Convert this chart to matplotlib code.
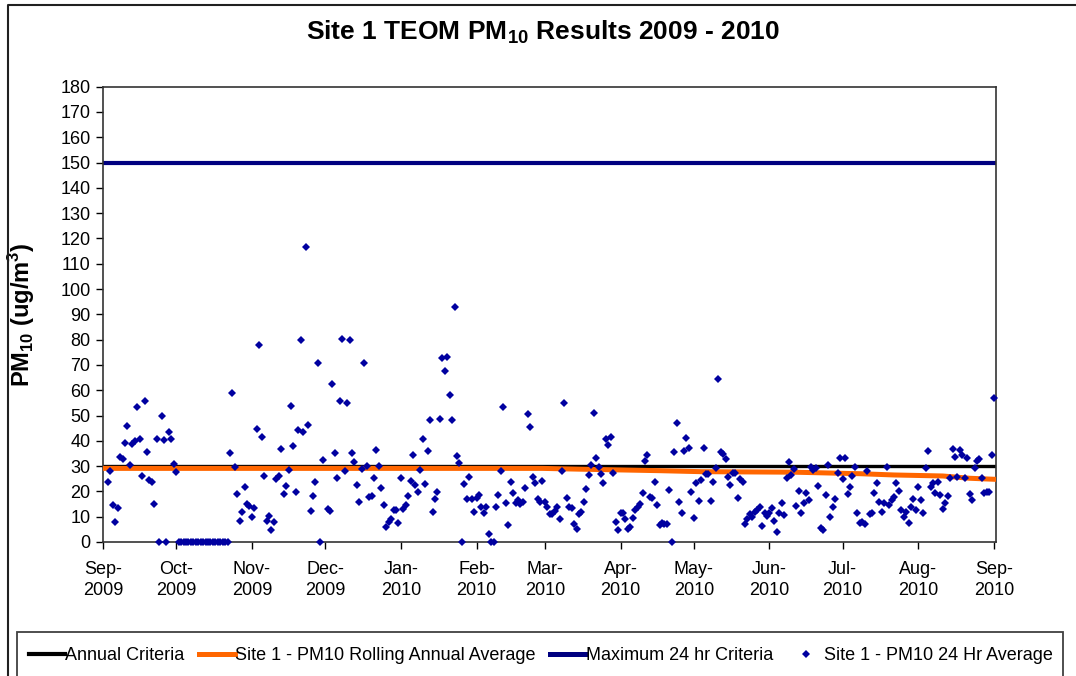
#! usr/bin/env python3

import numpy as np
import pandas as pd
import matplotlib
matplotlib.use('Agg')
import matplotlib.pyplot as plt
import matplotlib.dates as mdates
from matplotlib.lines import Line2D
from matplotlib.patches import Rectangle

plt.rcParams['font.family'] = ['Liberation Sans', 'DejaVu Sans']
plt.rcParams['mathtext.fontset'] = 'custom'
plt.rcParams['mathtext.rm'] = 'Liberation Sans'
plt.rcParams['mathtext.bf'] = 'Liberation Sans:bold'

# daily PM10 24 hr averages [ug/m3], first value on 3 Sep 2009, nan = no data
first_day = '2009-09-03'
pm10_daily = [
    # Sep 2009
    23.9, 28.1, 14.6, 7.9, 13.3, 33.7, 32.7, 39.0, 46.0, 30.6,
    38.6, 40.1, 53.5, 40.6, 26.1, 55.9, 35.7, 24.5, 23.7, 15.0,
    40.9, 0.0, 50.0, 40.3, 0.0, 43.4, 40.9, 30.7, 27.7,
    # zero run Oct 2009
    0, 0, 0, 0, 0, 0, 0, 0, 0, 0, 0, 0, 0, 0, 0, 0, 0, 0, 0, 0, 0,
    # late Oct - Nov 2009
    35.3, 58.8, 29.8, 18.9, 8.3, 11.9, 21.6, 14.9, 14.2, 9.9,
    13.3, 44.6, 77.8, 41.7, 26.1, 8.2, 10.4, 4.7, 7.9, 24.9,
    26.0, 36.8, 18.9, 22.3, 28.5, 53.8, 38.0, 19.9, 44.2, 80.0,
    43.5, 116.7, 46.3, 12.3, 18.2, 23.6, 70.7, 0.0, 32.4, np.nan,
    # Dec 2009 - Feb 2010
    13.2, 12.4, 62.5, 35.3, 25.2, 55.6, 80.4, 28.1, 55.1, 79.8,
    35.3, 31.6, 22.5, 15.8, 28.8, 70.9, 30.2, 17.7, 18.3, 25.2,
    36.3, 30.2, 21.5, 14.8, 6.1, 8.0, 9.2, 12.7, 12.7, 7.6,
    25.2, 13.2, 14.6, 18.2, 24.3, 34.3, 22.5, 19.7, 28.5, 40.9,
    22.9, 36.1, 48.3, 11.9, 16.9, 19.9, 48.8, 72.8, 67.6, 73.1,
    58.1, 48.3, 93.0, 34.0, 31.4, 0.0, 22.9, 16.9, 25.8, 17.0,
    12.0, 17.3, 18.5, 14.0, 11.4, 13.7, 3.0, 0.0, 0.0, 13.7,
    18.6, 28.2, 53.4, 15.5, 6.6, 23.6, 19.3, 15.5, 16.6, 15.0,
    15.9, 21.2, 50.5, 45.6, 25.8, 23.2, 16.9,
    # Mar - May 2010
    15.9, 24.3, 15.9, 13.7, 11.1, 11.0, 12.4, 14.0, 9.0, 28.0,
    55.0, 17.5, 14.0, 13.3, 7.0, 5.0, 11.1, 12.0, 15.8, 20.8,
    26.6, 30.5, 51.0, 33.1, 29.8, 26.9, 23.5, 40.7, 38.2, 41.4,
    27.4, 7.8, 4.7, 11.6, 11.6, 9.0, 5.3, 6.1, 9.4, 12.7,
    14.0, 15.0, 19.3, 32.0, 34.4, 17.7, 17.3, 23.9, 14.6, 6.7,
    7.4, 7.1, 7.1, 20.6, 0.0, 35.7, 47.0, 15.9, 11.6, 36.0,
    41.0, 37.1, 19.9, 9.6, 23.2, 16.2, 24.5, 37.3, 26.9, 26.8,
    16.3, 23.9, 29.1, 64.5, 35.7, 34.7, 32.7, 25.8, 22.5, 27.2,
    27.4, 17.3, 24.8, 23.9, 7.0, 9.1, 11.1, 10.0, 12.0, 12.7,
    14.0, 6.3, 11.6, 10.3,
    # Jun - Aug 2010
    11.6, 13.3, 8.4, 4.1, 11.3, 15.3, 10.7, 25.2, 31.8, 26.5,
    28.9, 14.2, 20.2, 11.3, 15.5, 19.5, 16.6, 29.5, 28.5, 29.1,
    22.2, 5.4, 4.7, 18.7, 30.5, 10.0, 14.0, 16.9, 27.4, 33.3,
    24.9, 33.1, 18.9, 21.6, 26.1, 29.5, 11.3, 7.4, 8.0, 7.0,
    28.1, 11.0, 11.3, 19.3, 23.2, 15.9, 12.0, 15.3, 29.8, 14.6,
    16.6, 17.7, 23.2, 20.3, 12.7, 9.8, 12.0, 7.4, 14.0, 16.9,
    12.7, 21.9, 16.6, 11.6, 29.1, 36.0, 21.9, 23.5, 19.3, 23.9,
    18.6, 12.9, 15.3, 18.3, 25.2, 36.8, 33.7, 25.8, 36.4, 34.4,
    25.2, 33.3, 18.9, 16.6, 29.1, 32.2, 32.7, 25.4, 19.3, 19.7,
    19.9, 34.4, 56.8,
]

# rolling annual average [ug/m3]
roll_dates = ['2009-09-01', '2009-11-01', '2010-01-01', '2010-02-28', '2010-03-15',
              '2010-04-17', '2010-05-04', '2010-06-11', '2010-07-08', '2010-07-22',
              '2010-08-11', '2010-08-22', '2010-09-01']
roll_avg = [29.1, 29.1, 29.1, 29.1, 28.8, 28.2, 27.8, 27.6, 27.0, 26.5, 26.1, 25.2, 24.8]

annual_criteria = 30  # [ug/m3]
max_24hr_criteria = 150  # [ug/m3]
period = ['2009-09-01', '2010-09-01']

labels = ['Annual Criteria', 'Site 1 - PM10 Rolling Annual Average',
          'Maximum 24 hr Criteria', 'Site 1 - PM10 24 Hr Average']

dates = pd.date_range(first_day, periods=len(pm10_daily), freq='D')
roll_dates = pd.to_datetime(roll_dates)
period = pd.to_datetime(period)

#######################################################################
W, H = 1076, 676
fig = plt.figure(figsize=(W/100, H/100), dpi=100)
ax = fig.add_axes([103/W, 1-542/H, (996-103)/W, (542-86.7)/H])

ax.plot(period, [annual_criteria]*2, '-', color='black', lw=2.4, zorder=2)
ax.plot(roll_dates, roll_avg, '-', color='#FF6600', lw=3.6, zorder=3)
ax.plot(period, [max_24hr_criteria]*2, '-', color='#000080', lw=3.0, zorder=2)
ax.plot(dates, pm10_daily, 'D', color='#0000A0', ms=4.5, mew=0, zorder=4, clip_on=False)

ax.set_ylim(0, 180)
ax.set_yticks(np.arange(0, 181, 10))
ax.set_xlim(period[0], period[1] + pd.Timedelta(days=0.8))
ax.xaxis.set_major_locator(mdates.MonthLocator())
ax.xaxis.set_major_formatter(mdates.DateFormatter('%b-\n%Y'))
ax.tick_params(direction='out', length=5, width=1, labelsize=13, colors='black')
ax.tick_params(axis='x', pad=9)
ax.tick_params(axis='y', pad=4)
for lab in ax.get_xticklabels():
    lab.set_linespacing(1.25)
for sp in ax.spines.values():
    sp.set_color('#333333')
    sp.set_linewidth(1.2)

ax.set_ylabel(r'PM$_{\mathbf{10}}$ (ug/m$^{\mathbf{3}}$)', fontsize=17, fontweight='bold')
ax.yaxis.label.set_va('center')
ax.yaxis.set_label_coords(-0.091, 0.5)

fig.text(543/W, 1-32/H, r'Site 1 TEOM PM$_{\mathbf{10}}$ Results 2009 - 2010',
         ha='center', va='center', fontsize=19, fontweight='bold')

# legend below the plot
handles = [Line2D([], [], color='black', lw=3),
           Line2D([], [], color='#FF6600', lw=3.6),
           Line2D([], [], color='#000080', lw=3.6),
           Line2D([], [], marker='D', ls='none', color='#0000A0', ms=4, mew=0)]
fig.legend(handles, labels, loc='center', bbox_to_anchor=(541/W, 1-656/H), ncol=4,
           frameon=False, fontsize=13, handlelength=2.0, handletextpad=0.0,
           columnspacing=0.8)
fig.patches.append(Rectangle((17/W, -0.05), (1063-17)/W, 0.05+1-632/H, fill=False,
                             edgecolor='#404040', lw=1.3, transform=fig.transFigure, figure=fig))

# outer chart frame
fig.lines.append(Line2D([8/W, 8/W, 1.0], [0, 1-5/H, 1-5/H], color='#202020', lw=1.5,
                        transform=fig.transFigure, figure=fig))

plt.savefig('out.png', dpi=100)
